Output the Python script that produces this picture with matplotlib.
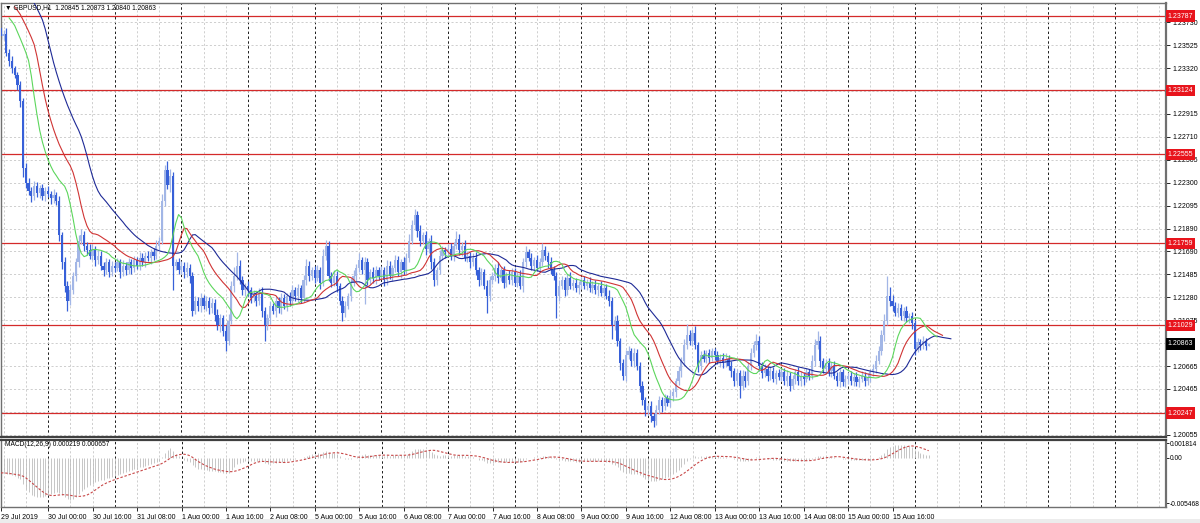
import numpy as np
import pandas as pd
import matplotlib
matplotlib.use("Agg")
from matplotlib import pyplot as plt
from matplotlib import font_manager

# GBPUSD H1, 29 Jul 07:00 -> 16 Aug 05:00 (one list row per trading day)
# closes in pips above 1.2000
close_pips = [
    361, 363, 346, 339, 332, 326, 317, 303, 243, 230, 223, 218, 227, 221, 225, 218, 223,
    220, 216, 219, 214, 183, 159, 138, 125, 134, 147, 159, 178, 183, 174, 170, 165, 171, 161, 165, 156, 152, 159, 150, 156,
    154, 159, 150, 156, 152, 159, 154, 161, 156, 163, 159, 165, 163, 168, 165, 174, 178, 214, 241, 228, 236, 156, 159, 152,
    156, 150, 154, 147, 116, 125, 120, 127, 120, 125, 118, 123, 112, 103, 109, 98, 89, 107, 138, 147, 156, 143, 134, 138,
    134, 127, 129, 125, 132, 116, 103, 109, 120, 116, 125, 118, 127, 120, 129, 125, 134, 129, 136, 127, 143, 156, 147, 152,
    145, 152, 141, 165, 174, 147, 141, 147, 138, 125, 114, 120, 129, 141, 147, 154, 161, 152, 159, 143, 150, 145, 152, 147,
    152, 143, 156, 147, 154, 161, 150, 159, 152, 163, 178, 192, 201, 187, 178, 183, 171, 178, 159, 143, 152, 165, 170, 168,
    171, 165, 174, 180, 170, 174, 163, 165, 159, 163, 152, 143, 150, 138, 129, 143, 147, 154, 145, 152, 141, 147, 143, 150,
    141, 147, 138, 159, 168, 163, 156, 161, 154, 159, 170, 165, 159, 152, 147, 129, 138, 143, 134, 145, 138, 141, 136, 139,
    143, 138, 141, 136, 139, 134, 138, 132, 136, 129, 125, 103, 107, 89, 69, 58, 76, 80, 71, 78, 67, 49, 36, 27,
    31, 22, 18, 27, 36, 31, 38, 34, 40, 43, 53, 62, 71, 85, 94, 89, 96, 85, 67, 76, 73, 78, 74, 80,
    76, 71, 74, 69, 73, 67, 62, 53, 60, 49, 58, 53, 67, 78, 85, 89, 67, 60, 64, 58, 62, 55, 60, 57,
    61, 53, 58, 49, 55, 61, 53, 58, 55, 61, 58, 71, 85, 89, 71, 64, 69, 62, 67, 58, 53, 61, 52, 55,
    58, 53, 57, 52, 55, 58, 53, 56, 61, 64, 71, 80, 94, 107, 129, 125, 120, 114, 118, 111, 116, 109, 111, 105,
    82, 88, 85, 89, 84.5, 86.3,
]
# upper / lower shadow length in pips
wick_up = [
    4, 3, 5, 3, 4, 2, 3, 4, 3, 5, 4, 3, 5, 4, 3, 4, 3,
    4, 3, 5, 3, 4, 3, 5, 4, 6, 3, 4, 5, 6, 4, 3, 5, 4, 3, 5, 4, 3, 4, 3, 4,
    3, 4, 3, 5, 3, 4, 3, 4, 3, 5, 4, 3, 4, 3, 4, 5, 4, 6, 5, 8, 6, 4, 3, 4,
    4, 3, 5, 4, 3, 4, 3, 5, 3, 4, 3, 4, 3, 5, 4, 3, 5, 6, 4, 8, 12, 5, 4, 3,
    4, 3, 5, 3, 4, 5, 3, 4, 5, 3, 4, 3, 5, 4, 3, 4, 5, 3, 4, 3, 5, 6, 4, 3,
    4, 5, 3, 6, 5, 4, 3, 5, 4, 3, 4, 5, 3, 4, 5, 4, 6, 3, 5, 4, 3, 5, 4, 3,
    4, 3, 5, 4, 3, 5, 4, 3, 5, 4, 6, 5, 6, 4, 5, 3, 4, 3, 5, 4, 3, 5, 4, 3,
    4, 5, 3, 7, 4, 3, 5, 4, 3, 4, 5, 3, 4, 3, 5, 4, 3, 4, 5, 3, 4, 3, 5, 4,
    4, 3, 5, 4, 6, 3, 4, 3, 5, 4, 6, 4, 3, 5, 4, 3, 5, 4, 3, 4, 5, 3, 4, 3,
    3, 4, 3, 5, 3, 4, 3, 4, 3, 4, 5, 3, 4, 5, 3, 4, 5, 4, 3, 5, 4, 3, 4, 3,
    3, 4, 3, 5, 4, 3, 4, 3, 5, 4, 3, 5, 4, 6, 10, 5, 4, 6, 3, 4, 5, 3, 4, 3,
    3, 4, 3, 4, 5, 3, 4, 3, 4, 3, 5, 4, 3, 5, 4, 6, 4, 3, 4, 3, 5, 4, 3, 4,
    3, 4, 5, 3, 4, 3, 5, 4, 3, 4, 3, 5, 6, 9, 4, 3, 4, 5, 3, 4, 3, 4, 3, 4,
    3, 4, 3, 4, 3, 4, 3, 4, 3, 4, 5, 4, 5, 6, 18, 8, 5, 4, 5, 4, 3, 4, 3, 4,
    3, 4, 3, 4, 3, 1.0,
]
wick_dn = [
    3, 4, 3, 5, 4, 3, 4, 5, 8, 5, 4, 5, 3, 4, 5, 3, 4,
    3, 5, 4, 4, 5, 6, 5, 9, 4, 3, 5, 4, 3, 5, 4, 3, 4, 5, 3, 4, 5, 3, 4, 3,
    4, 3, 5, 3, 4, 3, 5, 4, 3, 4, 3, 4, 3, 5, 4, 3, 4, 3, 5, 4, 6, 22, 4, 3,
    3, 5, 4, 6, 5, 3, 4, 5, 3, 4, 5, 4, 5, 4, 6, 5, 9, 4, 3, 5, 4, 3, 4, 5,
    5, 4, 3, 5, 4, 6, 14, 4, 5, 3, 6, 4, 5, 3, 4, 5, 3, 4, 5, 4, 3, 4, 5, 4,
    4, 3, 6, 3, 4, 5, 4, 3, 5, 4, 7, 4, 3, 4, 3, 5, 4, 3, 30, 4, 3, 4, 5, 4,
    3, 5, 4, 3, 5, 4, 3, 5, 4, 3, 4, 3, 4, 5, 4, 3, 5, 4, 6, 5, 4, 3, 4, 5,
    3, 4, 5, 3, 4, 5, 3, 4, 5, 3, 4, 5, 4, 3, 15, 4, 3, 5, 4, 3, 5, 4, 3, 4,
    3, 4, 3, 5, 4, 3, 4, 5, 3, 4, 3, 4, 5, 3, 4, 20, 4, 3, 5, 4, 3, 4, 3, 5,
    4, 3, 4, 3, 4, 3, 5, 3, 4, 3, 5, 12, 4, 5, 6, 4, 5, 3, 4, 5, 4, 6, 4, 5,
    4, 5, 6, 4, 3, 5, 4, 3, 4, 5, 4, 3, 5, 4, 3, 4, 5, 3, 6, 4, 3, 4, 5, 3,
    4, 3, 5, 4, 3, 4, 5, 4, 3, 11, 4, 5, 3, 4, 3, 4, 5, 4, 3, 5, 4, 3, 4, 3,
    4, 3, 4, 5, 3, 4, 3, 4, 5, 3, 4, 3, 4, 3, 5, 4, 3, 4, 5, 3, 4, 5, 3, 4,
    4, 3, 4, 3, 4, 3, 4, 3, 4, 3, 4, 3, 4, 5, 4, 5, 4, 3, 4, 3, 4, 3, 4, 5,
    6, 3, 4, 3, 4, 0.5,
]
first_open = 1.2368

# horizontal levels drawn on the chart
levels = [1.23787, 1.23124, 1.22555, 1.21759, 1.21029, 1.20247]
last_price = 1.20863
price_ticks = [1.23730, 1.23525, 1.23320, 1.23115, 1.22915, 1.22710, 1.22505, 1.22300,
               1.22095, 1.21890, 1.21690, 1.21485, 1.21280, 1.21075, 1.20870, 1.20665,
               1.20465, 1.20260, 1.20055]
# these three scale values sit under the level / price boxes
hidden_ticks = [1.23115, 1.20870, 1.20260]
macd_ticks = [0.001814, 0.0, -0.005468]
macd_tick_labels = ["0.001814", "0.00", "-0.005468"]

date_labels = ["29 Jul 2019", "30 Jul 00:00", "30 Jul 16:00", "31 Jul 08:00", "1 Aug 00:00",
               "1 Aug 16:00", "2 Aug 08:00", "5 Aug 00:00", "5 Aug 16:00", "6 Aug 08:00",
               "7 Aug 00:00", "7 Aug 16:00", "8 Aug 08:00", "9 Aug 00:00", "9 Aug 16:00",
               "12 Aug 08:00", "13 Aug 00:00", "13 Aug 16:00", "14 Aug 08:00", "15 Aug 00:00",
               "15 Aug 16:00"]
date_label_bar = [0] + [17 + 16 * k for k in range(20)]

header = "\u25BC GBPUSD,H1  1.20845 1.20873 1.20840 1.20863"
macd_header = "MACD(12,26,9) 0.000219 0.000657"

close = 1.2 + np.array(close_pips) / 10000
opens = np.r_[first_open, close[:-1]]
high = np.maximum(opens, close) + np.array(wick_up) / 10000
low = np.minimum(opens, close) - np.array(wick_dn) / 10000
idx = np.arange(len(close))


def smma(values, n, seed):
    out = []
    s = seed
    for v in values:
        s = (s * (n - 1) + v) / n
        out.append(s)
    return np.array(out)


def ema(values, n, seed):
    a = 2 / (n + 1)
    out = []
    s = seed
    for v in values:
        s = s + a * (v - s)
        out.append(s)
    return np.array(out)


# alligator on median price, macd on close
median = (high + low) / 2
jaw = smma(median, 13, 1.2410)
teeth = smma(median, 8, 1.2390)
lips = smma(median, 5, 1.2380)

macd_main = ema(close, 12, 1.2380) - ema(close, 26, 1.2398)
signal = pd.Series(macd_main).rolling(9, min_periods=1).mean().values

# fonts
names = {f.name for f in font_manager.fontManager.ttflist}
if "Liberation Sans" in names:
    fam, fs = ["Liberation Sans", "DejaVu Sans"], 5.0
else:
    fam, fs = ["DejaVu Sans"], 4.4
plt.rcParams["font.family"] = fam

W, H = 1200, 523
fig = plt.figure(figsize=(W / 100, H / 100), dpi=100)
fig.patch.set_facecolor("white")


def rect(x0, y0, x1, y1):
    return [x0 / W, 1 - y1 / H, (x1 - x0) / W, (y1 - y0) / H]


ax = fig.add_axes(rect(1, 3, 1166, 437))
ax2 = fig.add_axes(rect(1, 440, 1166, 507))

# 2.778 px per bar, bar 17 (30 Jul 00:00) sits at x=48 px
xl = ((1 - 48) / 2.778 + 17, (1166 - 48) / 2.778 + 17)

for a in (ax, ax2):
    a.set_xlim(*xl)
    for g in range(1, 420, 8):
        if (g - 17) % 24 == 0:
            a.axvline(g, color="#1a1a1a", lw=0.7, ls=(0, (2.5, 2.5)), zorder=0.5)
        else:
            a.axvline(g, color="#c6c6c6", lw=0.6, ls=(0, (2.5, 2.5)), zorder=0.5)
    for sp in a.spines.values():
        sp.set_color("#707070")
        sp.set_linewidth(1.0)
    a.spines["right"].set_linewidth(1.6)

ax.spines["bottom"].set_color("#404040")
ax.spines["bottom"].set_linewidth(1.6)
ax2.spines["top"].set_color("#404040")
ax2.spines["top"].set_linewidth(1.6)

# price panel
ax.set_ylim(1.20033, 1.23903)
for t in price_ticks:
    ax.axhline(t, color="#c6c6c6", lw=0.6, ls=(0, (2.5, 2.5)), zorder=0.5)
for lv in levels:
    ax.axhline(lv, color="#d42a2a", lw=0.9, zorder=1)

bull = close >= opens
col = np.where(bull, "#a2b6e6", "#3760d8")
ax.vlines(idx, low, high, colors=col, lw=0.9, zorder=2)
body_lo = np.minimum(opens, close)
body_h = np.maximum(np.abs(close - opens), 0.00001)
ax.bar(idx, body_h, bottom=body_lo, width=0.8, color=col, linewidth=0, zorder=3)

ax.plot(idx + 8, jaw, color="#1e2a96", lw=0.8, zorder=4)
ax.plot(idx + 5, teeth, color="#d03434", lw=0.8, zorder=4)
ax.plot(idx + 3, lips, color="#5cd65c", lw=0.8, zorder=4)

ax.yaxis.tick_right()
ax.set_yticks(price_ticks)
ax.set_yticklabels(["" if t in hidden_ticks else "%.5f" % t for t in price_ticks])
ax.tick_params(axis="y", direction="out", length=3, width=0.6, pad=2, labelsize=fs, colors="black")
ax.set_xticks([])

box_x = 1.0015
for lv in levels:
    ax.text(box_x, lv, "%.5f" % lv, transform=ax.get_yaxis_transform(), ha="left", va="center",
            fontsize=fs, color="white", zorder=10, clip_on=False,
            bbox=dict(boxstyle="square,pad=0.3", fc="#e8141c", ec="none"))
ax.text(box_x, last_price, "%.5f" % last_price, transform=ax.get_yaxis_transform(), ha="left",
        va="center", fontsize=fs, color="white", zorder=10, clip_on=False,
        bbox=dict(boxstyle="square,pad=0.3", fc="black", ec="none"))

fig.text(5 / W, 1 - 8 / H, header, fontsize=4.8, va="center", ha="left", color="black")

# MACD panel
ax2.set_ylim(-0.00595, 0.00218)
ax2.vlines(idx, 0, macd_main, colors="#bdbdbd", lw=0.6, zorder=2)
ax2.plot(idx, signal, color="#c84848", lw=0.8, ls=(0, (2.2, 1.6)), zorder=3)
ax2.yaxis.tick_right()
ax2.set_yticks(macd_ticks)
ax2.set_yticklabels(macd_tick_labels)
ax2.tick_params(axis="y", direction="out", length=2, width=0.6, pad=1, labelsize=4.8, colors="black")
ax2.set_xticks(date_label_bar)
ax2.set_xticklabels(date_labels, ha="left")
ax2.tick_params(axis="x", direction="out", length=3, width=0.6, pad=2, labelsize=fs, colors="black")
fig.text(5 / W, 1 - 445 / H, macd_header, fontsize=4.8, va="center", ha="left", color="black")

fig.add_artist(plt.Rectangle((0, 0), 1, 4 / H, transform=fig.transFigure, fc="#ececec", ec="none"))

fig.savefig("out.png", dpi=100)
